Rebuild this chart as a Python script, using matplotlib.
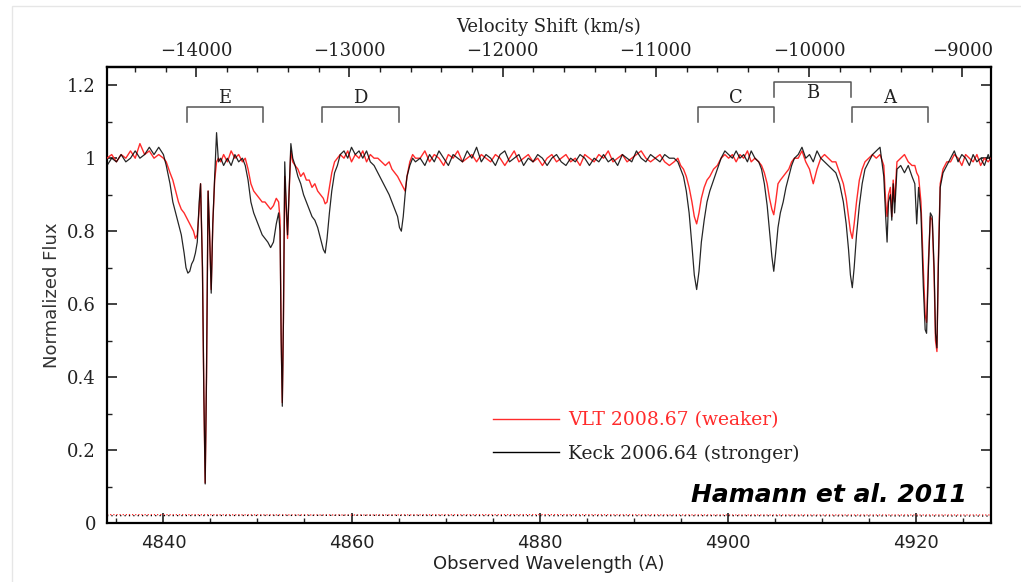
import matplotlib
matplotlib.use('Agg')
import matplotlib.pyplot as plt
from matplotlib.ticker import MultipleLocator, FuncFormatter
from matplotlib.patches import Rectangle

# ---------------- data ----------------
wavelength = [
    4834.0, 4834.5, 4835.0, 4835.5, 4836.0, 4836.5, 4837.0, 4837.5, 4838.0, 4838.5, 4839.0, 4839.5, 4840.0,
    4840.3, 4840.7, 4841.0, 4841.3, 4841.6, 4841.9, 4842.2, 4842.4, 4842.6, 4842.8, 4843.0, 4843.2, 4843.4, 4843.6,
    4843.8, 4843.95, 4844.15, 4844.3, 4844.44, 4844.58, 4844.75, 4844.9, 4845.08, 4845.25, 4845.45, 4845.65, 4845.85, 4846.1,
    4846.4, 4846.8, 4847.2, 4847.6, 4848.0, 4848.4, 4848.7,
    4849.0, 4849.3, 4849.6, 4849.9, 4850.2, 4850.5, 4850.8, 4851.1, 4851.4, 4851.7, 4852.0, 4852.25,
    4852.4, 4852.52, 4852.64, 4852.76, 4852.9, 4853.05, 4853.2, 4853.35, 4853.55, 4853.75,
    4854.0, 4854.3, 4854.6, 4854.9, 4855.2, 4855.5, 4855.8, 4856.1, 4856.4, 4856.7, 4857.0, 4857.2, 4857.4, 4857.65, 4857.9, 4858.2, 4858.5, 4858.8,
    4859.2, 4859.6, 4860.0, 4860.4, 4860.8, 4861.2, 4861.6, 4862.0, 4862.4,
    4862.8, 4863.2, 4863.6, 4864.0, 4864.3, 4864.6, 4864.9, 4865.1, 4865.3, 4865.5, 4865.7, 4865.9, 4866.2, 4866.5, 4866.8,
    4867.3, 4867.8, 4868.3, 4868.8, 4869.3, 4869.8, 4870.3, 4870.8, 4871.3, 4871.8,
    4872.3, 4872.8, 4873.3, 4873.8, 4874.3, 4874.8, 4875.3, 4875.8, 4876.3, 4876.8,
    4877.3, 4877.8, 4878.3, 4878.8, 4879.3, 4879.8, 4880.3, 4880.8, 4881.3, 4881.8,
    4882.3, 4882.8, 4883.3, 4883.8, 4884.3, 4884.8, 4885.3, 4885.8, 4886.3, 4886.8,
    4887.3, 4887.8, 4888.3, 4888.8, 4889.3, 4889.8, 4890.3, 4890.8, 4891.3, 4891.8,
    4892.3, 4892.8, 4893.3, 4893.8, 4894.3,
    4894.7, 4895.0, 4895.3, 4895.6, 4895.9, 4896.2, 4896.45, 4896.7, 4896.95, 4897.2, 4897.5, 4897.8, 4898.1, 4898.5, 4898.9, 4899.3, 4899.7, 4900.1,
    4900.5, 4900.9, 4901.3, 4901.7, 4902.1, 4902.5, 4902.9, 4903.3,
    4903.6, 4903.9, 4904.2, 4904.45, 4904.7, 4904.9, 4905.1, 4905.35, 4905.6, 4905.9, 4906.2, 4906.5, 4906.8, 4907.1,
    4907.5, 4907.9, 4908.3, 4908.7, 4909.1, 4909.5, 4909.9, 4910.3, 4910.7, 4911.1,
    4911.5, 4911.9, 4912.3, 4912.6, 4912.85, 4913.05, 4913.25, 4913.45, 4913.7, 4914.0, 4914.3, 4914.6, 4915.0, 4915.4, 4915.8,
    4916.2, 4916.6, 4916.8, 4916.95, 4917.1, 4917.3, 4917.45, 4917.6, 4917.75, 4918.0, 4918.4, 4918.8, 4919.2, 4919.6,
    4919.9, 4920.1, 4920.3, 4920.55, 4920.8, 4921.0, 4921.15, 4921.35, 4921.55, 4921.75, 4921.95, 4922.1, 4922.25, 4922.4, 4922.6, 4922.9, 4923.3,
    4923.7, 4924.1, 4924.5, 4924.9, 4925.3, 4925.7, 4926.1, 4926.5, 4926.9, 4927.3, 4927.7, 4928.0,
]

keck_flux = [
    0.98, 1.00, 0.99, 1.01, 0.99, 1.00, 1.02, 1.00, 1.01, 1.03, 1.01, 1.03, 1.01,
    0.98, 0.93, 0.88, 0.85, 0.82, 0.79, 0.74, 0.70, 0.685, 0.69, 0.71, 0.72, 0.74, 0.77,
    0.88, 0.93, 0.70, 0.35, 0.107, 0.40, 0.91, 0.80, 0.63, 0.82, 0.95, 1.07, 0.99, 1.00,
    0.98, 1.00, 0.98, 1.01, 0.99, 1.00, 0.98,
    0.94, 0.88, 0.85, 0.83, 0.81, 0.79, 0.78, 0.77, 0.755, 0.77, 0.82, 0.85,
    0.80, 0.50, 0.32, 0.55, 0.99, 0.88, 0.79, 0.90, 1.04, 1.00,
    0.98, 0.95, 0.93, 0.90, 0.88, 0.86, 0.84, 0.83, 0.81, 0.78, 0.75, 0.74, 0.78, 0.85, 0.91, 0.96, 0.98, 1.01,
    1.02, 1.00, 1.03, 1.01, 1.02, 1.00, 1.02, 0.99, 0.98,
    0.96, 0.94, 0.92, 0.90, 0.88, 0.86, 0.84, 0.81, 0.80, 0.84, 0.90, 0.95, 0.98, 1.00, 0.99,
    1.00, 0.98, 1.01, 0.99, 1.02, 1.00, 0.98, 1.01, 1.00, 0.99,
    1.02, 1.00, 1.03, 0.99, 1.01, 1.00, 0.98, 1.01, 1.02, 0.99,
    1.00, 1.01, 0.98, 1.00, 0.99, 1.01, 1.00, 0.98, 1.00, 1.01,
    0.99, 0.98, 1.00, 0.99, 1.01, 1.00, 0.98, 1.00, 0.99, 1.01,
    0.99, 1.00, 0.98, 1.01, 1.00, 0.99, 1.02, 1.00, 0.99, 1.01,
    1.00, 0.99, 1.01, 1.00, 1.00,
    0.99, 0.97, 0.95, 0.91, 0.85, 0.76, 0.68, 0.64, 0.69, 0.77, 0.83, 0.88, 0.91, 0.94, 0.97, 1.00, 1.02, 1.01,
    1.00, 1.02, 1.00, 1.01, 0.99, 1.02, 1.00, 0.99,
    0.97, 0.93, 0.87, 0.80, 0.73, 0.69, 0.74, 0.81, 0.85, 0.88, 0.92, 0.95, 0.98, 1.00,
    1.01, 1.03, 1.00, 1.01, 0.99, 1.02, 1.00, 0.99, 0.98, 0.97,
    0.96, 0.93, 0.88, 0.82, 0.75, 0.68, 0.645, 0.70, 0.79, 0.87, 0.93, 0.97, 0.99, 1.01, 1.02,
    1.03, 0.95, 0.84, 0.77, 0.88, 0.90, 0.83, 0.93, 0.85, 0.97, 0.98, 0.96, 0.98, 0.95,
    0.93, 0.82, 0.92, 0.85, 0.65, 0.53, 0.52, 0.70, 0.85, 0.84, 0.70, 0.52, 0.48, 0.70, 0.92, 0.96, 0.98,
    1.00, 1.02, 0.99, 1.01, 1.00, 0.98, 1.01, 0.99, 1.00, 0.98, 1.01, 0.99,
]

vlt_flux = [
    1.00, 1.01, 0.99, 1.01, 1.00, 1.02, 1.00, 1.04, 1.01, 1.02, 1.00, 1.01, 1.00,
    0.99, 0.96, 0.94, 0.91, 0.88, 0.86, 0.85, 0.84, 0.83, 0.82, 0.81, 0.80, 0.78, 0.79,
    0.86, 0.93, 0.70, 0.35, 0.11, 0.40, 0.91, 0.80, 0.64, 0.82, 0.94, 0.99, 1.00, 0.99,
    1.01, 0.99, 1.02, 1.00, 1.01, 0.99, 1.00,
    0.97, 0.93, 0.91, 0.90, 0.89, 0.88, 0.88, 0.87, 0.86, 0.87, 0.89, 0.88,
    0.83, 0.52, 0.33, 0.56, 0.95, 0.86, 0.78, 0.90, 1.02, 0.99,
    0.98, 0.97, 0.95, 0.96, 0.94, 0.94, 0.92, 0.93, 0.91, 0.90, 0.89, 0.875, 0.88, 0.92, 0.96, 0.99, 1.00, 1.01,
    1.00, 1.02, 0.99, 1.01, 1.00, 1.02, 0.99, 1.01, 1.00,
    1.00, 0.99, 0.98, 0.99, 0.97, 0.96, 0.95, 0.94, 0.93, 0.92, 0.91, 0.95, 0.99, 1.01, 1.00,
    1.00, 1.02, 0.99, 1.01, 1.00, 0.98, 1.01, 1.00, 1.02, 0.99,
    1.00, 1.01, 0.99, 1.01, 1.00, 0.99, 1.01, 1.00, 0.98, 1.00,
    1.02, 0.99, 1.00, 1.01, 0.99, 1.00, 0.98, 1.00, 1.01, 0.99,
    1.00, 1.01, 0.99, 1.00, 0.98, 1.01, 1.00, 0.99, 1.01, 1.00,
    1.02, 0.99, 1.00, 1.01, 0.99, 1.00, 1.01, 1.02, 1.00, 0.99,
    1.00, 1.01, 0.99, 0.98, 0.99,
    1.00, 0.98, 0.97, 0.95, 0.92, 0.88, 0.84, 0.82, 0.85, 0.89, 0.92, 0.94, 0.95, 0.97, 0.98, 1.00, 1.01, 1.00,
    1.01, 0.99, 1.01, 1.00, 1.02, 0.99, 1.00, 0.99,
    0.98, 0.96, 0.93, 0.89, 0.86, 0.845, 0.88, 0.93, 0.94, 0.95, 0.96, 0.97, 0.99, 1.00,
    1.00, 1.02, 0.99, 0.97, 0.93, 0.97, 1.00, 1.01, 1.00, 0.99,
    0.99, 0.96, 0.93, 0.89, 0.84, 0.80, 0.78, 0.82, 0.88, 0.94, 0.97, 0.99, 1.00, 1.01, 1.00,
    1.01, 0.98, 0.88, 0.84, 0.90, 0.92, 0.84, 0.94, 0.88, 0.99, 1.00, 1.01, 0.99, 0.98,
    0.98, 0.96, 0.95, 0.88, 0.70, 0.57, 0.55, 0.72, 0.84, 0.83, 0.68, 0.50, 0.47, 0.72, 0.93, 0.97, 0.99,
    0.99, 1.01, 1.00, 0.98, 1.01, 1.00, 0.99, 1.01, 0.98, 1.00, 0.99, 1.00,
]

# error spectra (dotted, near zero)
error_wave = [4834.0, 4860.0, 4880.0, 4900.0, 4928.0]
keck_error = [0.020, 0.021, 0.020, 0.020, 0.019]
vlt_error = [0.023, 0.022, 0.023, 0.022, 0.022]

# absorption-component brackets
bracket_labels = ['E', 'D', 'C', 'B', 'A']
bracket_left = [4842.5, 4856.9, 4896.8, 4904.9, 4913.2]
bracket_right = [4850.6, 4865.0, 4904.9, 4913.1, 4921.3]
bracket_top = [1.140, 1.140, 1.140, 1.209, 1.140]
bracket_text_y = [1.166, 1.166, 1.166, 1.180, 1.166]
bracket_drop = 0.041

series_labels = ['VLT 2008.67 (weaker)', 'Keck 2006.64 (stronger)']

# velocity scale (top axis): -14000 km/s at 4843.48 A, 61.37 km/s per A
V_REF, W_REF, SLOPE = -14000.0, 4843.48, 61.37
velocity_ticks = [-14000, -13000, -12000, -11000, -10000, -9000]

assert len(wavelength) == len(keck_flux) == len(vlt_flux)

# ---------------- figure ----------------
RED = '#ff2b2b'
fig = plt.figure(figsize=(10.21, 5.82), dpi=100)
ax = fig.add_axes([107 / 1021, 59 / 582, 884 / 1021, 456 / 582])

fig.patches.append(Rectangle((12 / 1021, -0.1), 1.2, 1.1 - 6 / 582,
                             transform=fig.transFigure, fill=False,
                             edgecolor='#e6e6e6', lw=1.0, zorder=0))

ax.plot(error_wave, vlt_error, color=RED, lw=0.9, ls=(0, (1, 1.5)), zorder=2)
ax.plot(error_wave, keck_error, color='black', lw=0.9, ls=(0, (1, 2.5)), zorder=2)

l_vlt, = ax.plot(wavelength, vlt_flux, color=RED, lw=1.0, zorder=3, label=series_labels[0])
l_keck, = ax.plot(wavelength, keck_flux, color='black', lw=0.9, alpha=0.85, zorder=4,
                  label=series_labels[1])

for lab, xl, xr, yt, ty in zip(bracket_labels, bracket_left, bracket_right, bracket_top, bracket_text_y):
    ax.plot([xl, xl, xr, xr], [yt - bracket_drop, yt, yt, yt - bracket_drop],
            color='#555555', lw=1.1, zorder=3)
    ax.text((xl + xr) / 2, ty, lab, ha='center', va='center', fontsize=13,
            family='DejaVu Serif', color='#222222')

ax.set_xlim(4834, 4928)
ax.set_ylim(0, 1.25)
ax.xaxis.set_major_locator(MultipleLocator(20))
ax.xaxis.set_minor_locator(MultipleLocator(5))
ax.yaxis.set_major_locator(MultipleLocator(0.2))
ax.yaxis.set_minor_locator(MultipleLocator(0.1))
ax.yaxis.set_major_formatter(FuncFormatter(lambda v, p: '%g' % round(v, 2)))
ax.tick_params(which='both', direction='in', top=False, right=True, colors='#222222')
ax.tick_params(which='major', length=7, width=1.2, labelsize=13, pad=8)
ax.tick_params(which='minor', length=3.5, width=1.0)
for lab in ax.get_yticklabels():
    lab.set_family('DejaVu Serif')
for sp in ax.spines.values():
    sp.set_linewidth(1.6)

sec = ax.secondary_xaxis('top', functions=(lambda w: V_REF + (w - W_REF) * SLOPE,
                                            lambda v: W_REF + (v - V_REF) / SLOPE))
sec.set_xticks(velocity_ticks)
sec.set_xticklabels(['\u2212%d' % abs(v) for v in velocity_ticks])
sec.xaxis.set_minor_locator(MultipleLocator(200))
sec.tick_params(which='both', direction='in', colors='#222222')
sec.tick_params(which='major', length=7, width=1.2, labelsize=13, pad=5)
sec.tick_params(which='minor', length=3.5, width=1.0)
for lab in sec.get_xticklabels():
    lab.set_family('DejaVu Serif')
sec.spines['top'].set_linewidth(1.6)
sec.set_xlabel('Velocity Shift (km/s)', fontsize=13, family='DejaVu Serif', labelpad=7,
               color='#222222')

ax.set_xlabel('Observed Wavelength (A)', fontsize=13, labelpad=2, color='#222222')
ax.set_ylabel('Normalized Flux', fontsize=13, labelpad=4, color='#333333')

leg = ax.legend(handles=[l_vlt, l_keck], loc='lower left', bbox_to_anchor=(0.4367, 0.132),
                frameon=False, prop={'family': 'DejaVu Serif', 'size': 13.5},
                handlelength=3.5, handletextpad=0.5,
                labelspacing=0.8, borderpad=0, borderaxespad=0,
                labelcolor=[RED, '#222222'])
for h in leg.legend_handles:
    h.set_alpha(1.0)
    h.set_linewidth(1.0)

ax.text(0.973, 0.061, 'Hamann et al. 2011', transform=ax.transAxes, ha='right', va='center',
        fontsize=18, fontweight='bold', fontstyle='italic', color='black', zorder=6)

fig.savefig('out.png', dpi=100)
